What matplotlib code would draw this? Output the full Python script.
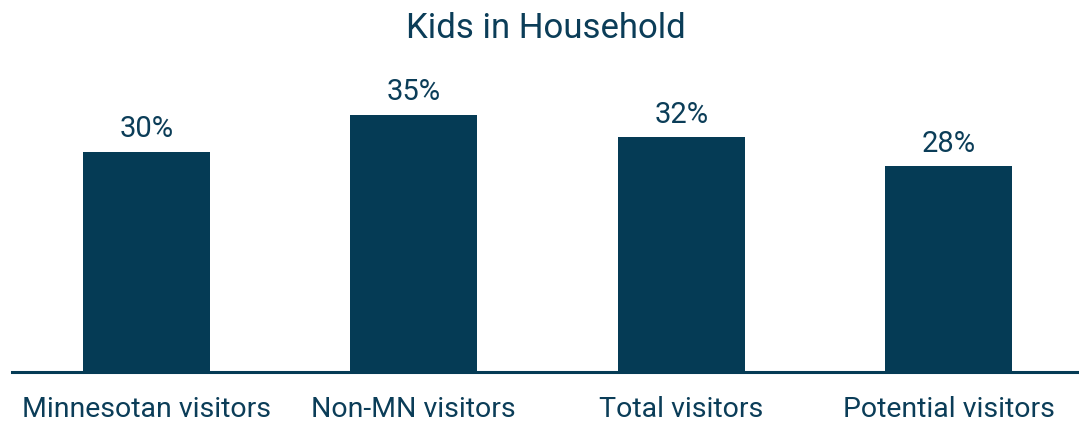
import matplotlib.pyplot as plt
from matplotlib import font_manager

# pick a narrow face if we have one
names = set(f.name for f in font_manager.fontManager.ttflist)
FONT = "Liberation Sans Narrow" if "Liberation Sans Narrow" in names else "Roboto"

categories = ["Minnesotan visitors", "Non-MN visitors", "Total visitors", "Potential visitors"]
kids_pct = [30, 35, 32, 28]

navy = "#053B55"
text_col = "#0B3D58"

plt.rcParams["font.family"] = [FONT, "DejaVu Sans"]

fig = plt.figure(figsize=(10.79, 4.24), dpi=100)
ax = fig.add_axes([12 / 1079, 52 / 424, 1067 / 1079, 330 / 424])

x = range(len(categories))
bars = ax.bar(x, kids_pct, width=0.475, color=navy, zorder=2)

for b, v in zip(bars, kids_pct):
    ax.annotate(f"{v}%", (b.get_x() + b.get_width() / 2, v), xytext=(0, 6),
                textcoords="offset points", ha="center", va="bottom",
                fontsize=21, color=text_col)

ax.set_xlim(-0.502, 3.487)
ax.set_ylim(0, 330 / 7.348)

ax.set_xticks(list(x))
ax.set_xticklabels(categories, fontsize=20.5, color=text_col)
ax.tick_params(axis="x", length=0, pad=17)
ax.set_yticks([])

for s in ["top", "right", "left"]:
    ax.spines[s].set_visible(False)
ax.spines["bottom"].set_color(navy)
ax.spines["bottom"].set_linewidth(2.2)

fig.text((12 + 1079) / 2 / 1079, 1 - 38 / 424, "Kids in Household", ha="center",
         va="baseline", fontsize=25, color=text_col)

fig.savefig("out.png", dpi=100)
